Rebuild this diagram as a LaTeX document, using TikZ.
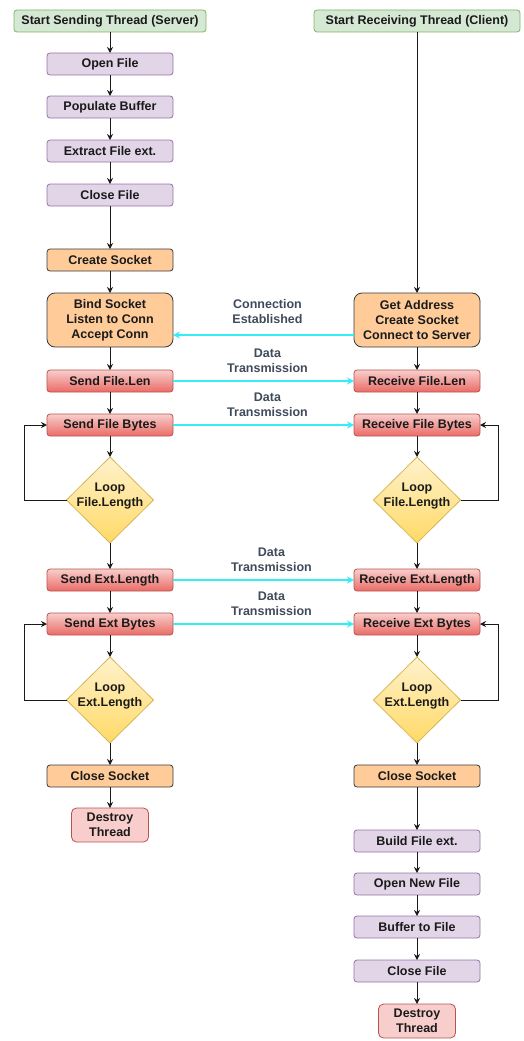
\documentclass[tikz,border=0pt]{standalone}
\usepackage{fontspec}
\setmainfont{Liberation Sans}
\usetikzlibrary{arrows.meta, positioning, shapes.geometric}
\definecolor{netGreen}{HTML}{D5E8D4}
\definecolor{netGreenD}{HTML}{82B366}
\definecolor{netPurple}{HTML}{E1D5E7}
\definecolor{netPurpleD}{HTML}{9673A6}
\definecolor{netOrange}{HTML}{FFCC99}
\definecolor{netOrangeD}{HTML}{36393D}
\definecolor{netRedT}{HTML}{F8CECC}
\definecolor{netRedB}{HTML}{EA6B66}
\definecolor{netRedD}{HTML}{B85450}
\definecolor{netYellowT}{HTML}{FFF2CC}
\definecolor{netYellowB}{HTML}{FFD966}
\definecolor{netYellowD}{HTML}{D6B656}
\definecolor{netCyan}{HTML}{33EEF5}
\definecolor{netInk}{HTML}{1A1A1A}
\definecolor{netLabel}{HTML}{3F4A5A}

\begin{document}
\begin{tikzpicture}[
  x=1pt, y=-1pt,
  font=\bfseries\fontsize{12.5}{15}\selectfont, text=netInk,
  box/.style={draw, rounded corners=3pt, minimum height=22pt, minimum width=126pt,
              align=center, inner sep=2pt, outer sep=0pt, line width=0.8pt},
  startbox/.style={box, draw=netGreenD, fill=netGreen, minimum width=192pt},
  filebox/.style={box, draw=netPurpleD, fill=netPurple},
  sockbox/.style={box, draw=netOrangeD, fill=netOrange},
  connbox/.style={sockbox, minimum height=54pt, rounded corners=8pt},
  sendbox/.style={box, draw=netRedD, top color=netRedT, bottom color=netRedB},
  endbox/.style={box, draw=netRedD, fill=netRedT, minimum width=77pt, minimum height=34pt,
                 rounded corners=5pt},
  loopdia/.style={diamond, draw=netYellowD, line width=0.8pt, top color=netYellowT,
                  bottom color=netYellowB, minimum width=87pt, minimum height=86pt,
                  inner sep=0pt, outer sep=0pt},
  looptxt/.style={align=center, yshift=4pt},
  ar/.style={-{Stealth[length=6pt, width=6pt]}, draw=netInk, line width=0.9pt},
  datar/.style={-{Stealth[length=7pt, width=7pt]}, draw=netCyan, line width=1.6pt},
  lbl/.style={align=center, text=netLabel, inner sep=2pt},
]
\useasboundingbox (0,0) rectangle (524,1041);

\node[startbox] (startS) at (110,21) {Start Sending Thread (Server)};
\node[filebox, below=21pt of startS] (openS) {Open File};
\node[filebox, below=21pt of openS] (fillS) {Populate Buffer};
\node[filebox, below=22pt of fillS] (extS) {Extract File ext.};
\node[filebox, below=22pt of extS] (closeS) {Close File};
\node[sockbox, below=43pt of closeS] (sockS) {Create Socket};
\node[connbox, below=22pt of sockS] (bindS) {Bind Socket\\Listen to Conn\\Accept Conn};
\node[sendbox, below=23pt of bindS] (lenS) {Send File.Len};
\node[sendbox, below=22pt of lenS] (bytesS) {Send File Bytes};
\node[loopdia, below=21pt of bytesS, label={[looptxt]center:Loop\\File.Length}] (loopS) {};
\node[sendbox, below=26pt of loopS] (extlenS) {Send Ext.Length};
\node[sendbox, below=22pt of extlenS] (extbytesS) {Send Ext Bytes};
\node[loopdia, below=22pt of extbytesS, label={[looptxt]center:Loop\\Ext.Length}] (extloopS) {};
\node[sockbox, below=22pt of extloopS] (closesockS) {Close Socket};
\node[endbox, below=21pt of closesockS] (endS) {Destroy\\Thread};

\node[startbox, minimum width=206pt] (startR) at (417,21) {Start Receiving Thread (Client)};
\node[connbox, right=181pt of bindS] (addrR) {Get Address\\Create Socket\\Connect to Server};
\node[sendbox, right=181pt of lenS] (lenR) {Receive File.Len};
\node[sendbox, right=181pt of bytesS] (bytesR) {Receive File Bytes};
\node[loopdia, below=21pt of bytesR, label={[looptxt]center:Loop\\File.Length}] (loopR) {};
\node[sendbox, right=181pt of extlenS] (extlenR) {Receive Ext.Length};
\node[sendbox, right=181pt of extbytesS] (extbytesR) {Receive Ext Bytes};
\node[loopdia, below=22pt of extbytesR, label={[looptxt]center:Loop\\Ext.Length}] (extloopR) {};
\node[sockbox, right=181pt of closesockS] (closesockR) {Close Socket};
\node[filebox, below=43pt of closesockR] (buildR) {Build File ext.};
\node[filebox, below=21pt of buildR] (openR) {Open New File};
\node[filebox, below=21pt of openR] (writeR) {Buffer to File};
\node[filebox, below=22pt of writeR] (closeR) {Close File};
\node[endbox, below=22pt of closeR] (endR) {Destroy\\Thread};

\draw[ar] (startS) -- (openS);
\draw[ar] (openS) -- (fillS);
\draw[ar] (fillS) -- (extS);
\draw[ar] (extS) -- (closeS);
\draw[ar] (closeS) -- (sockS);
\draw[ar] (sockS) -- (bindS);
\draw[ar] (bindS) -- (lenS);
\draw[ar] (lenS) -- (bytesS);
\draw[ar] (bytesS) -- (loopS);
\draw[ar] (loopS.west) -- ++(-42,0) |- (bytesS.west);
\draw[ar] (loopS) -- (extlenS);
\draw[ar] (extlenS) -- (extbytesS);
\draw[ar] (extbytesS) -- (extloopS);
\draw[ar] (extloopS.west) -- ++(-42,0) |- (extbytesS.west);
\draw[ar] (extloopS) -- (closesockS);
\draw[ar] (closesockS) -- (endS);

\draw[ar] (startR) -- (addrR);
\draw[ar] (addrR) -- (lenR);
\draw[ar] (lenR) -- (bytesR);
\draw[ar] (bytesR) -- (loopR);
\draw[ar] (loopR.east) -- ++(38,0) |- (bytesR.east);
\draw[ar] (loopR) -- (extlenR);
\draw[ar] (extlenR) -- (extbytesR);
\draw[ar] (extbytesR) -- (extloopR);
\draw[ar] (extloopR.east) -- ++(38,0) |- (extbytesR.east);
\draw[ar] (extloopR) -- (closesockR);
\draw[ar] (closesockR) -- (buildR);
\draw[ar] (buildR) -- (openR);
\draw[ar] (openR) -- (writeR);
\draw[ar] (writeR) -- (closeR);
\draw[ar] (closeR) -- (endR);

\draw[datar] ([yshift=-15pt]addrR.west) -- node[lbl, above=9pt, xshift=4pt] {Connection\\Established}
  ([yshift=-15pt]bindS.east);
\draw[datar] (lenS) -- node[lbl, above=6pt, xshift=4pt] {Data\\Transmission} (lenR);
\draw[datar] (bytesS) -- node[lbl, above=6pt, xshift=4pt] {Data\\Transmission} (bytesR);
\draw[datar] (extlenS) -- node[lbl, above=6pt, xshift=8pt] {Data\\Transmission} (extlenR);
\draw[datar] (extbytesS) -- node[lbl, above=6pt, xshift=8pt] {Data\\Transmission} (extbytesR);
\end{tikzpicture}
\end{document}
